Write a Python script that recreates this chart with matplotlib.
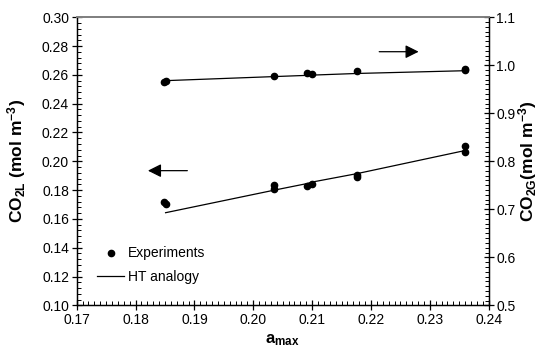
import matplotlib
matplotlib.use("Agg")
import matplotlib.pyplot as plt
from matplotlib.ticker import MultipleLocator

plt.rcParams["font.family"] = ["Liberation Sans", "DejaVu Sans"]
plt.rcParams["mathtext.fontset"] = "custom"
plt.rcParams["mathtext.rm"] = "Liberation Sans"
plt.rcParams["mathtext.bf"] = "Liberation Sans:bold"
plt.rcParams["mathtext.it"] = "Liberation Sans:italic"

# experiments, liquid phase (left axis)
a_max_exp = [0.1849, 0.1851, 0.2036, 0.2036, 0.2091, 0.2099, 0.2177, 0.2177, 0.2359, 0.2359]
co2l_exp = [0.1718, 0.1702, 0.1835, 0.1810, 0.1826, 0.1840, 0.1905, 0.1890, 0.2108, 0.2062]

# experiments, gas phase (right axis)
a_max_gas = [0.1849, 0.1851, 0.2036, 0.2091, 0.2099, 0.2177, 0.2359, 0.2359]
co2g_exp = [0.9646, 0.9679, 0.9783, 0.9846, 0.9825, 0.9875, 0.9930, 0.9905]

# HT analogy model
a_max_model = [0.1851, 0.2036, 0.2091, 0.2099, 0.2177, 0.2359]
co2l_model = [0.1643, 0.1800, 0.1845, 0.1855, 0.1915, 0.2074]
co2g_model = [0.9680, 0.9765, 0.9790, 0.9795, 0.9830, 0.9887]


def main():
    fig, ax = plt.subplots(figsize=(5.46, 3.58), dpi=100)
    fig.subplots_adjust(left=0.1405, right=0.895, bottom=0.1472, top=0.9517)
    ax2 = ax.twinx()

    ax.plot(a_max_exp, co2l_exp, "o", color="black", markersize=4.5, label="Experiments")
    ax.plot(a_max_model, co2l_model, "-", color="black", linewidth=0.9, label="HT analogy")
    ax2.plot(a_max_gas, co2g_exp, "o", color="black", markersize=4.5)
    ax2.plot(a_max_model, co2g_model, "-", color="black", linewidth=0.9)

    ax.set_xlim(0.17, 0.24)
    ax.set_ylim(0.10, 0.30)
    ax2.set_ylim(0.5, 1.1)

    ax.xaxis.set_major_locator(MultipleLocator(0.01))
    ax.xaxis.set_minor_locator(MultipleLocator(0.001))
    ax.yaxis.set_major_locator(MultipleLocator(0.02))
    ax.yaxis.set_minor_locator(MultipleLocator(0.004))
    ax2.yaxis.set_major_locator(MultipleLocator(0.1))
    ax2.yaxis.set_minor_locator(MultipleLocator(0.01))
    ax.xaxis.set_major_formatter(plt.FormatStrFormatter("%.2f"))
    ax.yaxis.set_major_formatter(plt.FormatStrFormatter("%.2f"))
    ax2.yaxis.set_major_formatter(plt.FormatStrFormatter("%.1f"))

    for a in (ax, ax2):
        a.tick_params(which="major", direction="inout", length=7, width=0.9, labelsize=10, pad=2)
        a.tick_params(which="minor", direction="in", length=3, width=0.7)
        for side in ("left", "right", "bottom"):
            a.spines[side].set_linewidth(0.9)
        a.spines["top"].set_color("#808080")
        a.spines["top"].set_linewidth(1.3)
    ax.tick_params(axis="x", which="both", top=False)

    ax.set_xlabel(r"$\mathbf{a_{max}}$", fontsize=12)
    ax.set_ylabel(r"$\mathbf{CO_{2L}\ (mol\ m^{-3})}$", fontsize=12.5)
    ax2.set_ylabel(r"$\mathbf{CO_{2G}(mol\ m^{-3})}$", fontsize=12.5, rotation=90)
    ax.xaxis.set_label_coords(0.5, -0.095)
    ax.yaxis.set_label_coords(-0.118, 0.5)
    ax2.yaxis.set_label_coords(1.066, 0.5)

    # arrows telling which curve belongs to which axis
    ax.annotate("", xy=(0.2281, 0.2761), xytext=(0.2214, 0.2761),
                arrowprops=dict(arrowstyle="-|>", color="black", lw=0.9,
                                mutation_scale=20, shrinkA=0, shrinkB=0))
    ax.annotate("", xy=(0.1821, 0.1935), xytext=(0.1888, 0.1935),
                arrowprops=dict(arrowstyle="-|>", color="black", lw=0.9,
                                mutation_scale=20, shrinkA=0, shrinkB=0))

    ax.legend(loc="lower left", bbox_to_anchor=(0.02, 0.03), frameon=False,
              fontsize=10, handlelength=1.9, handletextpad=0.3, labelspacing=0.7)

    fig.savefig("out.png", dpi=100)


if __name__ == "__main__":
    main()
